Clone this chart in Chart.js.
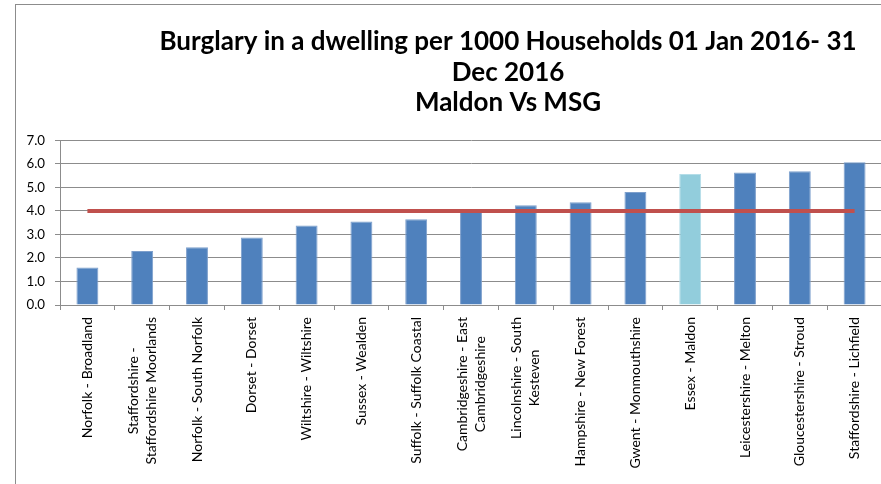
<!DOCTYPE html>
<html>
<head>
<meta charset="utf-8">
<script src="https://cdn.jsdelivr.net/npm/chart.js@4/dist/chart.umd.min.js"></script>
<style>
  html, body { margin: 0; padding: 0; background: #fff; overflow: hidden; }
  #wrap {
    position: absolute; left: 15px; top: 4px;
    width: 984px; height: 480px;
    border-top: 1px solid #8c8c8c; border-left: 1px solid #8c8c8c;
  }
</style>
</head>
<body>
<div id="wrap"><canvas id="burglaryChart" width="984" height="480"></canvas></div>
<script>
const areas = [
  ['Norfolk - Broadland'],
  ['Staffordshire -', 'Staffordshire Moorlands'],
  ['Norfolk - South Norfolk'],
  ['Dorset - Dorset'],
  ['Wiltshire - Wiltshire'],
  ['Sussex - Wealden'],
  ['Suffolk - Suffolk Coastal'],
  ['Cambridgeshire - East', 'Cambridgeshire'],
  ['Lincolnshire - South', 'Kesteven'],
  ['Hampshire - New Forest'],
  ['Gwent - Monmouthshire'],
  ['Essex - Maldon'],
  ['Leicestershire - Melton'],
  ['Gloucestershire - Stroud'],
  ['Staffordshire - Lichfield']
];
const ratePer1000 = [1.60, 2.30, 2.46, 2.87, 3.38, 3.55, 3.65, 4.00, 4.24, 4.37, 4.81, 5.57, 5.64, 5.69, 6.07];
const msgAverage = [4.0, 4.0, 4.0, 4.0, 4.0, 4.0, 4.0, 4.0, 4.0, 4.0, 4.0, 4.0, 4.0, 4.0, 4.0];
const yTicks = [0, 1, 2, 3, 4, 5, 6, 7];
const highlightArea = 'Essex - Maldon';

const labelFont = '14px Lato';
const gridGrey = '#8c8c8c';

// draw the rotated category names so each block is centred like Excel does
const areaLabels = {
  id: 'areaLabels',
  afterDraw(chart) {
    const xs = chart.scales.x;
    const ctx = chart.ctx;
    ctx.save();
    ctx.font = labelFont;
    ctx.fillStyle = '#000';
    ctx.textAlign = 'center';
    ctx.textBaseline = 'middle';
    const lineH = 18;
    areas.forEach(function(lines, i) {
      const x = xs.getPixelForValue(i);
      let maxW = 0;
      lines.forEach(function(l) { maxW = Math.max(maxW, ctx.measureText(l).width); });
      ctx.save();
      ctx.translate(x, xs.top + 12);
      ctx.rotate(-Math.PI / 2);
      lines.forEach(function(l, j) {
        ctx.fillText(l, -maxW / 2, (j - (lines.length - 1) / 2) * lineH);
      });
      ctx.restore();
    });
    ctx.restore();
  }
};

const barColours = areas.map(a => a[0] === highlightArea ? '#92CDDC' : '#4F81BD');
const barEdges = areas.map(a => a[0] === highlightArea ? '#b4dde8' : '#7d9fcc');

new Chart(document.getElementById('burglaryChart'), {
  type: 'bar',
  data: {
    labels: areas.map(a => a.join(' ')),
    datasets: [{
      type: 'line',
      label: 'MSG',
      data: msgAverage,
      borderColor: '#C0504D',
      borderWidth: 4,
      pointRadius: 0,
      order: 0
    }, {
      label: 'Burglary per 1000',
      data: ratePer1000,
      backgroundColor: barColours,
      borderColor: barEdges,
      borderWidth: { left: 1, right: 1, top: 1, bottom: 0 },
      barPercentage: 0.4,
      categoryPercentage: 1,
      order: 1
    }]
  },
  options: {
    responsive: false,
    animation: false,
    layout: { padding: 0 },
    plugins: {
      legend: { display: false },
      tooltip: { enabled: false },
      title: {
        display: true,
        text: ['Burglary in a dwelling per 1000 Households 01 Jan 2016- 31', 'Dec 2016', 'Maldon Vs MSG'],
        color: '#000',
        font: { family: 'Lato', size: 26, weight: 'bold', lineHeight: 1.16 },
        padding: { top: 22, bottom: 23 }
      }
    },
    scales: {
      x: {
        offset: true,
        grid: { drawOnChartArea: false, tickLength: 5, color: gridGrey },
        border: { color: gridGrey },
        ticks: { display: false },
        afterFit: function(scale) { scale.height = 180; }
      },
      y: {
        min: yTicks[0],
        max: yTicks[yTicks.length - 1],
        afterBuildTicks: function(scale) { scale.ticks = yTicks.map(v => ({ value: v })); },
        grid: { color: gridGrey, tickLength: 5 },
        border: { color: gridGrey },
        ticks: {
          color: '#000',
          font: { family: 'Lato', size: 13.3 },
          padding: 10,
          callback: v => v.toFixed(1)
        },
        afterFit: function(scale) { scale.width = 44; }
      },
      // empty right-hand space: the chart runs on past the window edge
      yRight: {
        position: 'right',
        min: yTicks[0],
        max: yTicks[yTicks.length - 1],
        grid: { drawOnChartArea: false, drawTicks: false },
        border: { display: false },
        ticks: { display: false },
        afterFit: function(scale) { scale.width = 118; }
      }
    }
  },
  plugins: [areaLabels]
});
</script>
</body>
</html>
